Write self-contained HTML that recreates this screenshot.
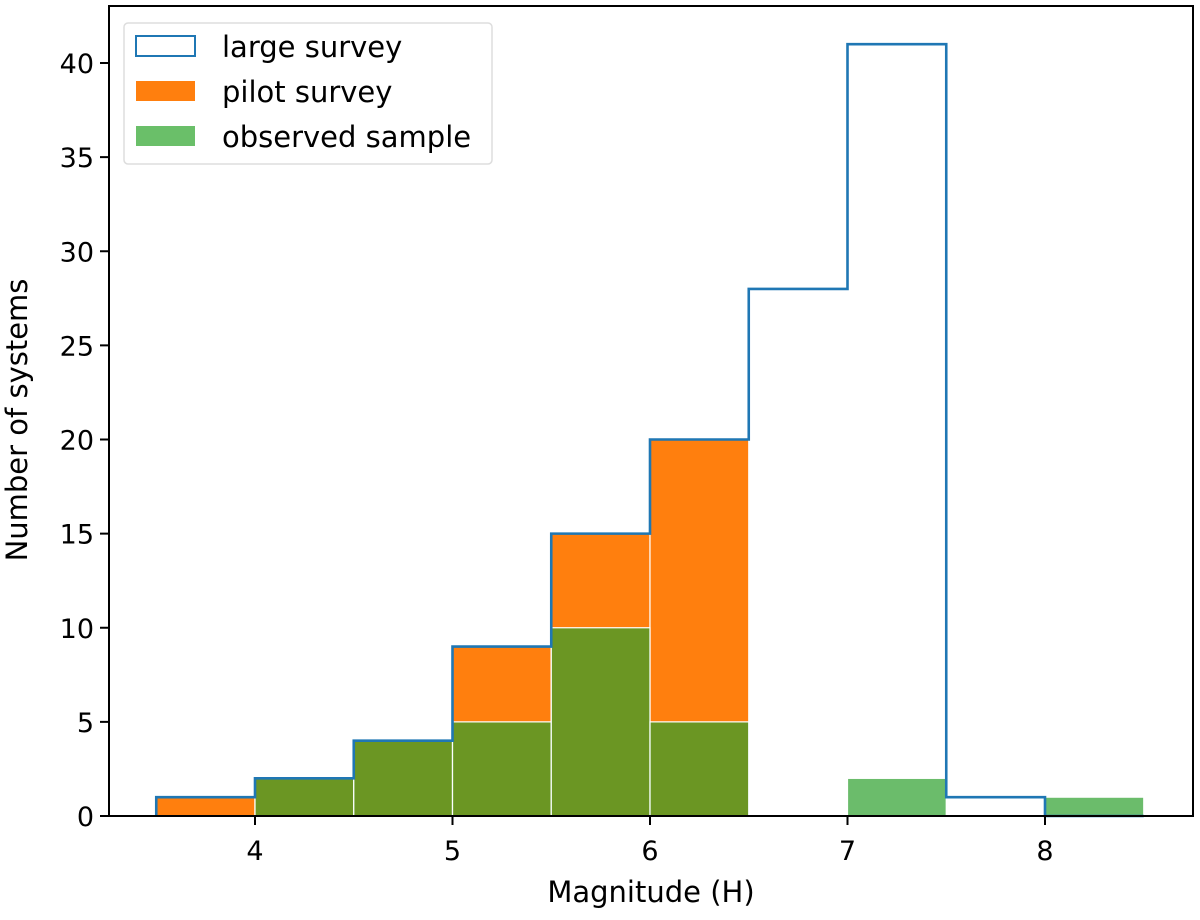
<!DOCTYPE html>
<html><head><meta charset="utf-8"><style>
body{margin:0;background:#fff;}
svg{font-family:"DejaVu Sans","Liberation Sans",sans-serif;}
</style></head><body>
<svg id="chart" width="1200" height="915" xmlns="http://www.w3.org/2000/svg">
<g id="bars"></g>
<g id="axes"></g>
</svg>
<script>
const binEdges = [3.5,4,4.5,5,5.5,6,6.5,7,7.5,8,8.5];
const largeSurvey = [1,2,4,9,15,20,28,41,1,0];
const pilotSurvey = [1,2,4,9,15,20,0,0,0,0];
const observedSample = [0,2,4,5,10,5,0,2,0,1];
const xTicks = [4,5,6,7,8];
const yTicks = [0,5,10,15,20,25,30,35,40];

const L=109,R=1193,T=6,B=816;
const x = v => 255 + (v-4)*197.5;
const y = v => B - v*(B-63)/40;
const NS='http://www.w3.org/2000/svg';
function mk(tag, attrs, parent){const e=document.createElementNS(NS,tag);for(const k in attrs)e.setAttribute(k,attrs[k]);parent.appendChild(e);return e;}
const bars=document.getElementById('bars'), axes=document.getElementById('axes');

pilotSurvey.forEach((v,i)=>{ if(!v) return;
  const r=mk('rect',{x:x(binEdges[i]),y:y(v),width:x(binEdges[i+1])-x(binEdges[i]),height:B-y(v),fill:'#ff7f0e',stroke:'#fff','stroke-width':1.2},bars);
  
  
});
observedSample.forEach((v,i)=>{ if(!v) return;
  const r=mk('rect',{x:x(binEdges[i]),y:y(v),width:x(binEdges[i+1])-x(binEdges[i]),height:B-y(v),fill:'#2ca02c','fill-opacity':0.7,stroke:'#fff','stroke-width':1.2},bars);
  
  
});
let d='M'+x(binEdges[0])+','+B;
largeSurvey.forEach((v,i)=>{d+=' L'+x(binEdges[i])+','+y(v)+' L'+x(binEdges[i+1])+','+y(v);});
d+=' L'+x(binEdges[binEdges.length-1])+','+B;
const p=mk('path',{d:d,fill:'none',stroke:'#1f77b4','stroke-width':2.6},bars);



mk('rect',{x:L,y:T,width:R-L,height:B-T,fill:'none',stroke:'#000','stroke-width':2},axes);
xTicks.forEach(t=>{
  mk('line',{x1:x(t),x2:x(t),y1:B,y2:B+9,stroke:'#000','stroke-width':2},axes);
  const tx=mk('text',{x:x(t),y:B+44,'text-anchor':'middle','font-size':27},axes);tx.textContent=t;
  
  
});
yTicks.forEach(t=>{
  mk('line',{x1:L-9,x2:L,y1:y(t),y2:y(t),stroke:'#000','stroke-width':2},axes);
  const tx=mk('text',{x:L-15,y:y(t)+10,'text-anchor':'end','font-size':27},axes);tx.textContent=t;
  
  
});
const xl=mk('text',{x:651,y:902,'text-anchor':'middle','font-size':29},axes);xl.textContent='Magnitude (H)';


const yl=mk('text',{x:0,y:0,transform:'translate(27,420) rotate(-90)','text-anchor':'middle','font-size':29},axes);yl.textContent='Number of systems';



const lg=mk('g',{},axes);


mk('rect',{x:124,y:23,width:368,height:141,rx:4,fill:'#fff','fill-opacity':0.8,stroke:'#ddd','stroke-width':1.5},lg);
const items=[['large survey','none','#1f77b4'],['pilot survey','#ff7f0e','none'],['observed sample','#6abf69','none']];
items.forEach((it,i)=>{
  const yy=36+i*45;
  mk('rect',{x:136,y:yy,width:59,height:20,fill:it[1],stroke:it[2],'stroke-width':2},lg);
  const t=mk('text',{x:222,y:yy+21,'font-size':29},lg);t.textContent=it[0];
  
  
});
</script>
</body></html>
